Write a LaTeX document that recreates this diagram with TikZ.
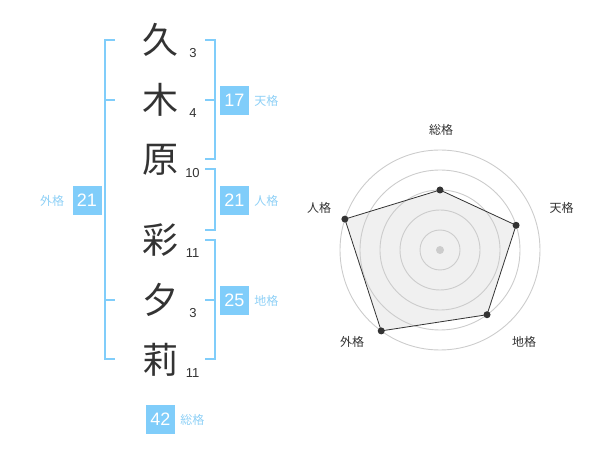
\documentclass[tikz,border=0pt]{standalone}
\usepackage{fontspec}
\setmainfont{Liberation Sans}
\newfontfamily\jp{Noto Sans CJK JP}
\usetikzlibrary{positioning}
\definecolor{kakublue}{HTML}{80CDFA}
\definecolor{kakutext}{HTML}{8ED0F6}
\definecolor{ink}{HTML}{333333}
\definecolor{ring}{HTML}{CCCCCC}
\definecolor{area}{HTML}{F0F0F0}

\tikzset{
  kanji/.style={text=ink, font=\jp\fontsize{36}{36}\selectfont, inner sep=0pt},
  strokes/.style={text=ink, font=\fontsize{13}{13}\selectfont, inner sep=0pt},
  kakubox/.style={fill=kakublue, text=white, minimum size=29pt, inner sep=0pt, font=\fontsize{18}{18}\selectfont},
  kakuname/.style={text=kakutext, font=\jp\fontsize{12}{12}\selectfont, inner sep=0pt},
  bracket/.style={draw=kakublue, line width=2pt},
  axisname/.style={text=ink, font=\jp\fontsize{12}{12}\selectfont, inner sep=0pt}
}

\begin{document}
\begin{tikzpicture}[x=1pt, y=-1pt, node distance=60pt]
  \useasboundingbox (0,0) rectangle (600,470);

  % name
  \node[kanji] (K1) at (160,40) {久};
  \node[kanji, below of=K1] (K2) {木};
  \node[kanji, below of=K2] (K3) {原};
  \node[kanji] (K4) at (160,240) {彩};
  \node[kanji, below of=K4] (K5) {夕};
  \node[kanji, below of=K5] (K6) {莉};

  % strokes
  \node[strokes] (N1) at (193,53) {3};
  \node[strokes] (N2) at (193,113) {4};
  \node[strokes] (N3) at (192.5,173) {10};
  \node[strokes] (N4) at (192.5,253) {11};
  \node[strokes] (N5) at (193,313) {3};
  \node[strokes] (N6) at (192.5,373) {11};

  % brackets
  \draw[bracket] (115,40) -- (105,40) -- (105,359.5) -- (115,359.5);
  \draw[bracket] (105,100) -- (115,100);
  \draw[bracket] (105,300) -- (115,300);

  \draw[bracket] (205,40) -- (215,40) -- (215,159.5) -- (205,159.5);
  \draw[bracket] (205,100) -- (215,100);
  \draw[bracket] (205,169.5) -- (215,169.5) -- (215,230) -- (205,230);
  \draw[bracket] (205,240) -- (215,240) -- (215,359.5) -- (205,359.5);
  \draw[bracket] (205,300) -- (215,300);

  % kaku
  \node[kakubox] (Ten) at (234.5,100.5) {17};
  \node[kakuname, right=5pt of Ten] {天格};
  \node[kakubox] (Jin) at (234.5,200.5) {21};
  \node[kakuname, right=5pt of Jin] {人格};
  \node[kakubox] (Chi) at (234.5,300.5) {25};
  \node[kakuname, right=5pt of Chi] {地格};
  \node[kakubox] (Gai) at (87,200.5) {21};
  \node[kakuname, left=8pt of Gai] {外格};
  \node[kakubox] (Sou) at (160.5,419.5) {42};
  \node[kakuname, right=5pt of Sou] {総格};

  % radar
  \begin{scope}[shift={(440,250)}, yscale=-1]
    \coordinate (O) at (0,0);
    \coordinate (P1) at (90:60);
    \coordinate (P2) at (18:80);
    \coordinate (P3) at (-54:80);
    \coordinate (P4) at (-126:100);
    \coordinate (P5) at (162:100);
    \fill[area] (P1) -- (P2) -- (P3) -- (P4) -- (P5) -- cycle;
    \draw[ring, line width=0.9pt] (O) circle (20pt) (O) circle (40pt) (O) circle (60pt)
      (O) circle (80pt) (O) circle (100pt);
    \fill[ring] (O) circle (4pt);
    \draw[ink, line width=0.8pt] (P1) -- (P2) -- (P3) -- (P4) -- (P5) -- cycle;
    \fill[ink] (P1) circle (3.5pt) (P2) circle (3.5pt) (P3) circle (3.5pt)
      (P4) circle (3.5pt) (P5) circle (3.5pt);
  \end{scope}
  \node[axisname] (A1) at (441,130) {総格};
  \node[axisname] (A2) at (561.5,208) {天格};
  \node[axisname] (A3) at (524,342) {地格};
  \node[axisname] (A4) at (352,342) {外格};
  \node[axisname] (A5) at (319,208) {人格};
\end{tikzpicture}
\end{document}
